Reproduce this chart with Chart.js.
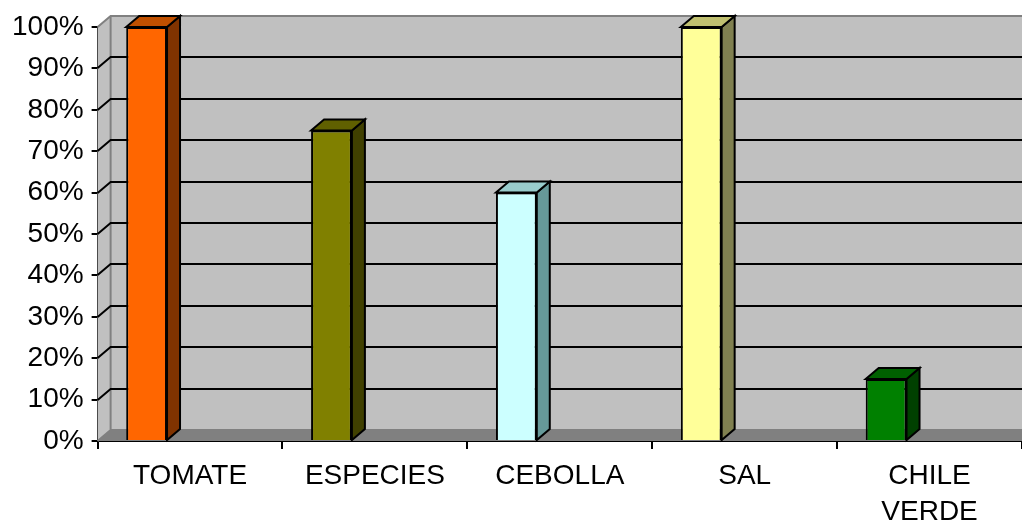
<!DOCTYPE html>
<html>
<head>
<meta charset="utf-8">
<script src="https://cdn.jsdelivr.net/npm/chart.js@4/dist/chart.umd.min.js"></script>
<style>
  html, body { margin: 0; padding: 0; background: #ffffff; }
  #wrap { width: 1022px; height: 524px; position: relative; }
</style>
</head>
<body>
<div id="wrap"><canvas id="c" width="1022" height="524"></canvas></div>
<script>
const categories = ['TOMATE', 'ESPECIES', 'CEBOLLA', 'SAL', ['CHILE', 'VERDE']];
const values = [100, 75, 60, 100, 15];
const yTicks = [0, 10, 20, 30, 40, 50, 60, 70, 80, 90, 100];

const frontColors = ['#FF6600', '#808000', '#CCFFFF', '#FFFF99', '#008000'];
const topColors   = ['#C05000', '#606000', '#99CCCC', '#C0C070', '#006000'];
const sideColors  = ['#803300', '#404000', '#669999', '#808050', '#004000'];

const DX = 13, DY = -11;

const threeD = {
  id: 'threeD',
  beforeDatasetsDraw(chart) {
    const { ctx, chartArea: a, scales: { y } } = chart;
    ctx.save();
    ctx.fillStyle = '#c0c0c0';
    ctx.fillRect(a.left + DX, a.top + DY, a.right - a.left - DX, a.bottom - a.top);
    ctx.beginPath();
    ctx.moveTo(a.left, a.top);
    ctx.lineTo(a.left + DX, a.top + DY);
    ctx.lineTo(a.left + DX, a.bottom + DY);
    ctx.lineTo(a.left, a.bottom);
    ctx.closePath();
    ctx.fill();
    ctx.fillStyle = '#808080';
    ctx.beginPath();
    ctx.moveTo(a.left, a.bottom);
    ctx.lineTo(a.left + DX, a.bottom + DY);
    ctx.lineTo(a.right, a.bottom + DY);
    ctx.lineTo(a.right, a.bottom);
    ctx.closePath();
    ctx.fill();
    ctx.strokeStyle = '#808080';
    ctx.lineWidth = 2;
    ctx.beginPath();
    ctx.moveTo(a.left, a.top);
    ctx.lineTo(a.left + DX, a.top + DY);
    ctx.lineTo(a.right, a.top + DY);
    ctx.moveTo(a.left + DX, a.top + DY);
    ctx.lineTo(a.left + DX, a.bottom + DY);
    ctx.lineTo(a.right, a.bottom + DY);
    ctx.moveTo(a.left + DX, a.bottom + DY);
    ctx.lineTo(a.left, a.bottom);
    ctx.stroke();
    ctx.strokeStyle = '#000000';
    ctx.lineWidth = 2;
    yTicks.forEach(v => {
      if (v === 0 || v === 100) return;
      const py = Math.round(y.getPixelForValue(v));
      ctx.beginPath();
      ctx.moveTo(a.left, py);
      ctx.lineTo(a.left + DX, py + DY);
      ctx.lineTo(a.right, py + DY);
      ctx.stroke();
    });
    ctx.restore();
  },
  afterDatasetsDraw(chart) {
    const { ctx } = chart;
    const meta = chart.getDatasetMeta(0);
    ctx.save();
    ctx.strokeStyle = '#000000';
    ctx.lineWidth = 2;
    meta.data.forEach((bar, i) => {
      const p = bar.getProps(['x', 'y', 'width', 'base'], true);
      const l = p.x - p.width / 2, r = p.x + p.width / 2;
      const t = p.y, b = p.base;
      ctx.fillStyle = sideColors[i];
      ctx.beginPath();
      ctx.moveTo(r, t);
      ctx.lineTo(r + DX, t + DY);
      ctx.lineTo(r + DX, b + DY);
      ctx.lineTo(r, b);
      ctx.closePath();
      ctx.fill();
      ctx.stroke();
      ctx.fillStyle = topColors[i];
      ctx.beginPath();
      ctx.moveTo(l, t);
      ctx.lineTo(l + DX, t + DY);
      ctx.lineTo(r + DX, t + DY);
      ctx.lineTo(r, t);
      ctx.closePath();
      ctx.fill();
      ctx.stroke();
    });
    ctx.restore();
  }
};

new Chart(document.getElementById('c'), {
  type: 'bar',
  data: {
    labels: categories,
    datasets: [
      {
        data: values,
        backgroundColor: frontColors,
        borderColor: '#000000',
        borderWidth: 2,
        categoryPercentage: 0.94,
        barPercentage: 0.47
      },
      {
        data: values.map(() => null),
        categoryPercentage: 0.94,
        barPercentage: 0.47
      }
    ]
  },
  options: {
    responsive: false,
    animation: false,
    devicePixelRatio: 1,
    layout: { padding: { left: 4, right: 0, top: 27, bottom: 0 } },
    plugins: { legend: { display: false }, tooltip: { enabled: false } },
    scales: {
      x: {
        offset: true,
        afterFit: s => { s.height = 83; },
        grid: { display: true, offset: true, drawOnChartArea: false, color: '#000000', tickLength: 8, lineWidth: 2 },
        border: { display: true, color: '#000000', width: 2 },
        ticks: {
          color: '#000000',
          padding: 9,
          maxRotation: 0,
          autoSkip: false,
          font: { family: '"Liberation Sans", Arial, sans-serif', size: 28, lineHeight: 1.3 }
        }
      },
      y: {
        min: 0,
        max: 100,
        grid: { display: true, drawOnChartArea: false, color: '#000000', tickLength: 6, lineWidth: 2 },
        border: { display: true, color: '#000000', width: 2 },
        ticks: {
          stepSize: 10,
          color: '#000000',
          padding: 8,
          callback: v => v + '%',
          font: { family: '"Liberation Sans", Arial, sans-serif', size: 28 }
        }
      }
    }
  },
  plugins: [threeD]
});
</script>
</body>
</html>
